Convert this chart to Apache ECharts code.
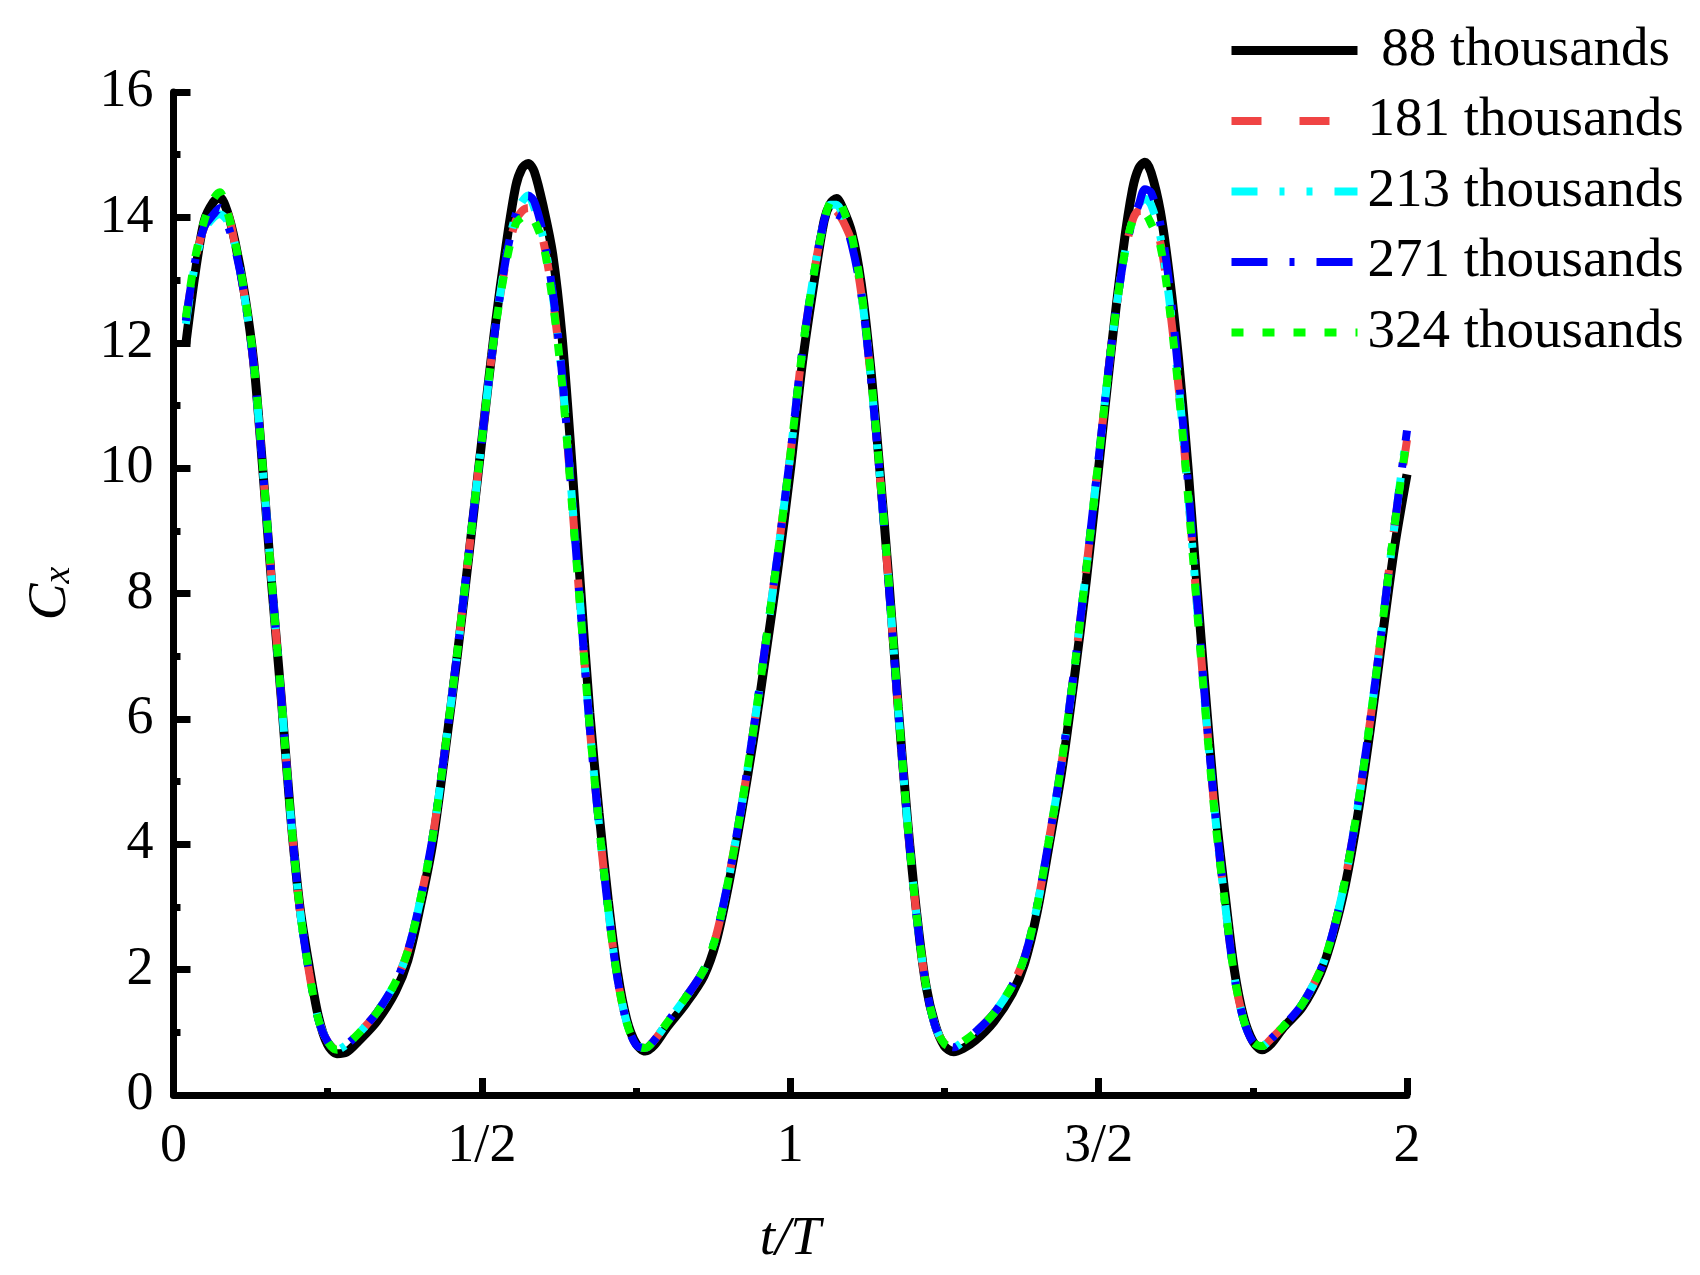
<!DOCTYPE html>
<html>
<head>
<meta charset="utf-8">
<script src="https://cdn.jsdelivr.net/npm/echarts@6/dist/echarts.min.js"></script>
<style>
  html, body { margin: 0; padding: 0; background: #fff; }
  #chart { width: 1700px; height: 1275px; }
</style>
</head>
<body>
<div id="chart"></div>
<script>
// t/T sample positions (shared by all curves)
const tT = [
  0.02,0.035,0.05,0.065,0.075,0.087,0.1,0.115,0.13,0.145,
  0.16,0.175,0.19,0.205,0.22,0.235,0.25,0.265,0.28,0.3,
  0.33,0.36,0.38,0.4,0.42,0.44,0.46,0.48,0.5,0.52,
  0.54,0.555,0.565,0.575,0.585,0.6,0.615,0.63,0.645,0.66,
  0.675,0.69,0.705,0.72,0.735,0.75,0.765,0.78,0.8,0.83,
  0.86,0.88,0.9,0.92,0.94,0.96,0.98,1.0,1.02,1.04,
  1.055,1.065,1.075,1.085,1.1,1.115,1.13,1.145,1.16,1.175,
  1.19,1.205,1.22,1.235,1.25,1.265,1.28,1.3,1.33,1.36,
  1.38,1.4,1.42,1.44,1.46,1.48,1.5,1.52,1.54,1.555,
  1.565,1.575,1.585,1.6,1.615,1.63,1.645,1.66,1.675,1.69,
  1.705,1.72,1.735,1.75,1.765,1.78,1.8,1.83,1.86,1.88,
  1.9,1.92,1.94,1.96,1.98,2.0
];

// Cx, 88 thousands
const cx88 = [
  11.98,13.1,13.95,14.25,14.32,14.1,13.6,12.8,11.7,9.95,
  8.05,6.3,4.45,3.0,2.05,1.25,0.8,0.66,0.68,0.86,
  1.18,1.65,2.15,3.0,4.0,5.45,7.0,8.7,10.45,12.15,
  13.6,14.5,14.78,14.86,14.73,14.15,13.4,12.1,10.2,8.1,
  6.1,4.5,3.1,1.95,1.2,0.82,0.7,0.8,1.08,1.45,
  1.9,2.45,3.35,4.45,5.65,7.0,8.4,9.95,11.7,13.05,
  13.95,14.22,14.3,14.15,13.75,12.95,11.65,10.0,8.2,6.2,
  4.4,2.9,1.75,1.12,0.78,0.69,0.74,0.87,1.17,1.62,
  2.1,2.9,4.0,5.15,6.6,8.2,10.0,11.85,13.5,14.45,
  14.78,14.88,14.72,14.1,13.05,11.7,10.0,8.05,6.2,4.5,
  3.2,2.0,1.25,0.86,0.72,0.82,1.08,1.4,1.95,2.55,
  3.35,4.45,5.8,7.3,8.75,9.9
];

// Cx, 181 thousands
const cx181 = [
  12.35,13.3,13.85,14.1,14.2,14.1,13.55,12.75,11.65,9.95,
  8.1,6.3,4.45,2.95,1.95,1.2,0.85,0.72,0.8,0.98,
  1.32,1.8,2.3,3.1,4.1,5.5,7.05,8.75,10.45,12.1,
  13.35,13.95,14.1,14.15,14.05,13.6,12.7,11.4,9.6,7.7,
  5.85,4.3,2.95,1.85,1.15,0.8,0.75,0.88,1.15,1.55,
  2.0,2.55,3.45,4.55,5.8,7.2,8.65,10.2,11.9,13.2,
  13.95,14.15,14.1,13.95,13.6,12.8,11.5,9.9,8.1,6.15,
  4.35,2.85,1.75,1.1,0.82,0.76,0.85,1.0,1.3,1.75,
  2.2,3.0,4.1,5.3,6.75,8.4,10.15,11.9,13.3,13.95,
  14.1,14.1,14.0,13.6,12.6,11.25,9.6,7.75,5.95,4.35,
  3.05,1.9,1.2,0.85,0.78,0.9,1.1,1.45,2.0,2.6,
  3.45,4.6,5.95,7.5,9.1,10.45
];

// Cx, 213 thousands
const cx213 = [
  12.3,13.25,13.8,14.0,14.05,13.95,13.55,12.75,11.65,9.95,
  8.1,6.3,4.45,2.95,1.95,1.2,0.85,0.72,0.8,0.98,
  1.32,1.8,2.3,3.1,4.1,5.5,7.05,8.75,10.45,12.1,
  13.4,14.05,14.25,14.35,14.15,13.65,12.75,11.45,9.65,7.75,
  5.85,4.3,2.95,1.85,1.15,0.8,0.75,0.88,1.15,1.55,
  2.0,2.55,3.45,4.55,5.8,7.2,8.65,10.2,11.9,13.2,
  13.95,14.2,14.2,14.05,13.6,12.8,11.5,9.9,8.1,6.15,
  4.35,2.85,1.75,1.1,0.82,0.76,0.85,1.0,1.3,1.75,
  2.2,3.0,4.1,5.3,6.75,8.4,10.15,11.9,13.3,13.95,
  14.2,14.3,14.2,13.7,12.65,11.3,9.6,7.75,5.95,4.35,
  3.05,1.9,1.2,0.85,0.78,0.9,1.1,1.45,2.0,2.6,
  3.45,4.6,5.95,7.5,9.1,10.6
];

// Cx, 271 thousands
const cx271 = [
  12.35,13.3,13.85,14.05,14.15,13.9,13.5,12.75,11.65,9.95,
  8.1,6.3,4.45,2.95,1.95,1.2,0.85,0.72,0.8,0.98,
  1.32,1.8,2.3,3.1,4.1,5.5,7.05,8.75,10.45,12.1,
  13.4,14.05,14.25,14.35,14.25,13.7,12.8,11.5,9.65,7.75,
  5.85,4.3,2.95,1.85,1.15,0.8,0.75,0.88,1.15,1.55,
  2.0,2.55,3.45,4.55,5.8,7.2,8.65,10.2,11.9,13.2,
  13.95,14.2,14.05,14.0,13.55,12.8,11.5,9.9,8.1,6.15,
  4.35,2.85,1.75,1.1,0.82,0.76,0.85,1.0,1.3,1.75,
  2.2,3.0,4.1,5.3,6.75,8.4,10.15,11.9,13.3,13.95,
  14.2,14.45,14.4,13.9,12.9,11.45,9.75,7.85,6.0,4.4,
  3.05,1.9,1.2,0.85,0.78,0.9,1.1,1.45,2.0,2.6,
  3.45,4.6,5.95,7.5,9.1,10.6
];

// Cx, 324 thousands
const cx324 = [
  12.4,13.35,13.95,14.3,14.4,14.1,13.6,12.8,11.7,10.0,
  8.1,6.3,4.45,2.95,1.95,1.2,0.85,0.72,0.8,0.98,
  1.32,1.8,2.3,3.1,4.1,5.5,7.05,8.75,10.45,12.1,
  13.3,13.9,14.0,14.05,13.95,13.55,12.65,11.35,9.55,7.7,
  5.85,4.3,2.95,1.85,1.15,0.8,0.75,0.88,1.15,1.55,
  2.0,2.55,3.45,4.55,5.8,7.2,8.65,10.2,11.9,13.2,
  13.95,14.25,14.3,14.15,13.7,12.85,11.55,9.95,8.15,6.2,
  4.35,2.85,1.75,1.1,0.82,0.76,0.85,1.0,1.3,1.75,
  2.2,3.0,4.1,5.3,6.75,8.4,10.15,11.9,13.3,13.95,
  14.0,14.05,13.9,13.55,12.55,11.2,9.55,7.7,5.9,4.3,
  3.05,1.9,1.2,0.85,0.78,0.9,1.1,1.45,2.0,2.6,
  3.45,4.6,5.95,7.5,9.1,10.5
];

const seriesNames = ['88 thousands', '181 thousands', '213 thousands', '271 thousands', '324 thousands'];
const xTickLabels = { 0: '0', 0.5: '1/2', 1: '1', 1.5: '3/2', 2: '2' };

const FONT = "'Times New Roman', 'Liberation Serif', serif";

const styles = [
  { color: '#000000', type: 'solid', width: 9 },
  { color: '#F04444', type: [30, 38], width: 8 },
  { color: '#00FFFF', type: [26, 22, 5, 22, 6, 22], width: 8 },
  { color: '#0000FF', type: [36, 22, 5, 22], width: 8 },
  { color: '#00FF00', type: [12, 19], width: 8 }
];

const allValues = [cx88, cx181, cx213, cx271, cx324];

function pairs(vals) {
  return tT.map((t, i) => [t, vals[i]]);
}

const chart = echarts.init(document.getElementById('chart'));

const option = {
  backgroundColor: '#ffffff',
  animation: false,
  grid: { left: 173.5, right: 293, top: 92, bottom: 180 },
  legend: {
    orient: 'vertical',
    left: 1227,
    top: 23,
    padding: 0,
    itemWidth: 126,
    itemHeight: 8,
    itemGap: 15.5,
    itemStyle: { opacity: 0 },
    formatter: (name) => (name === '88 thousands' ? ' ' + name : name),
    textStyle: { fontFamily: FONT, fontSize: 55, color: '#000', lineHeight: 55, padding: [0, 0, 0, 5] },
    data: seriesNames.map((name, k) => ({
      name: name,
      lineStyle: { width: styles[k].width, color: styles[k].color, type: styles[k].type, cap: 'butt' }
    }))
  },
  xAxis: {
    type: 'value',
    min: 0,
    max: 2,
    interval: 0.5,
    name: 't/T',
    nameLocation: 'middle',
    nameGap: 117,
    nameTextStyle: { fontFamily: FONT, fontSize: 55, fontStyle: 'italic', color: '#000' },
    axisLine: { show: true, onZero: false, lineStyle: { color: '#000', width: 7 } },
    axisTick: { show: true, inside: true, length: 17, lineStyle: { color: '#000', width: 7 } },
    minorTick: { show: true, splitNumber: 2, length: 7, lineStyle: { color: '#000', width: 7 } },
    axisLabel: {
      fontFamily: FONT, fontSize: 54, color: '#000', margin: 25,
      formatter: (v) => xTickLabels[v]
    },
    splitLine: { show: false }
  },
  yAxis: {
    type: 'value',
    min: 0,
    max: 16,
    interval: 2,
    name: '{c|C}{s|x}',
    nameLocation: 'middle',
    nameGap: 95,
    nameRotate: 90,
    nameTextStyle: {
      color: '#000',
      rich: {
        c: { fontFamily: FONT, fontSize: 55, fontStyle: 'italic', lineHeight: 55 },
        s: { fontFamily: FONT, fontSize: 38, fontStyle: 'italic', verticalAlign: 'bottom', lineHeight: 4 }
      }
    },
    axisLine: { show: true, onZero: false, lineStyle: { color: '#000', width: 7 } },
    axisTick: { show: true, inside: true, length: 17, lineStyle: { color: '#000', width: 7 } },
    minorTick: { show: true, splitNumber: 2, length: 7, lineStyle: { color: '#000', width: 7 } },
    axisLabel: { fontFamily: FONT, fontSize: 54, color: '#000', margin: 20 },
    splitLine: { show: false }
  },
  series: seriesNames.map((name, k) => ({
    name: name,
    type: 'line',
    data: pairs(allValues[k]),
    symbol: 'none',
    smooth: 0.3,
    clip: false,
    lineStyle: { color: styles[k].color, width: styles[k].width, type: styles[k].type, cap: 'butt' },
    itemStyle: { color: styles[k].color },
    z: 2 + k
  }))
};

chart.setOption(option);
</script>
</body>
</html>
